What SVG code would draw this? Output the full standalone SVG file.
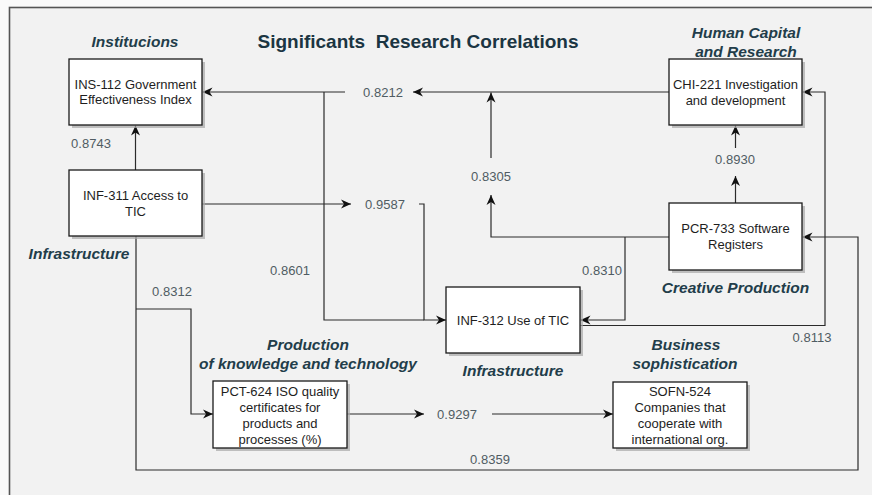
<svg xmlns="http://www.w3.org/2000/svg" width="872" height="495" viewBox="0 0 872 495">
<style>
.box{fill:#ffffff;stroke:#1a1a1a;stroke-width:1.3}
.shd{fill:#a8a8a8;opacity:0.7}
.nt{font-family:"Liberation Sans",Arial,sans-serif;font-size:13px;fill:#1e1e1e;text-anchor:middle}
.num{font-family:"Liberation Sans",Arial,sans-serif;font-size:13px;fill:#505c63;text-anchor:middle}
.cat{font-family:"Liberation Sans",Arial,sans-serif;font-size:15.5px;font-weight:bold;font-style:italic;fill:#223d4a;text-anchor:middle}
.ttl{font-family:"Liberation Sans",Arial,sans-serif;font-size:19px;font-weight:bold;fill:#1b3542;text-anchor:middle;white-space:pre}
.ln{fill:none;stroke:#2b2b2b;stroke-width:1.2}
.arr{marker-end:url(#ah)}
</style>
<defs>
<marker id="ah" markerUnits="userSpaceOnUse" markerWidth="11" markerHeight="10" refX="10" refY="5" orient="auto">
<path d="M0,0.5 L10,5 L0,9.5 L3,5 Z" fill="#111"/>
</marker>
</defs>
<rect x="0" y="0" width="872" height="495" fill="#fafafa"/>
<rect x="9.5" y="7.5" width="880" height="500" fill="#f2f2f2" stroke="#555" stroke-width="1.6"/>
<text class="ttl" x="418" y="48" xml:space="preserve">Significants  Research Correlations</text>

<g id="connectors">
<path class="ln arr" d="M135.5,170 V125.5"/>
<path class="ln arr" d="M202,204 H351"/>
<path class="ln arr" d="M419,204 H424 V320 H446"/>
<path class="ln arr" d="M669,92 H413"/>
<path class="ln arr" d="M345,92 H202.5"/>
<path class="ln" d="M324,92 V320 H424"/>
<path class="ln arr" d="M669,237 H491 V195"/>
<path class="ln arr" d="M491,158 V92.5"/>
<path class="ln arr" d="M625,237 V320 H580.5"/>
<path class="ln arr" d="M580,325.5 H825 V92 H802.5"/>
<path class="ln arr" d="M735.5,203 V176"/>
<path class="ln arr" d="M735.5,148 V125.5"/>
<path class="ln arr" d="M136,236 V470 H858 V237 H802.5"/>
<path class="ln arr" d="M136,309 H191 V414 H213"/>
<path class="ln arr" d="M347,414 H424"/>
<path class="ln arr" d="M492,414 H613"/>
<text class="num" x="385" y="208.5">0.9587</text>
<text class="num" x="383" y="96.5">0.8212</text>
<text class="num" x="491" y="180.5">0.8305</text>
<text class="num" x="735" y="163.5">0.8930</text>
<text class="num" x="91" y="147.5">0.8743</text>
<text class="num" x="290" y="274.5">0.8601</text>
<text class="num" x="172" y="295.5">0.8312</text>
<text class="num" x="602" y="274.5">0.8310</text>
<text class="num" x="812" y="341.5">0.8113</text>
<text class="num" x="457" y="418.5">0.9297</text>
<text class="num" x="490" y="463.5">0.8359</text>
</g>

<g id="ins112">
<rect class="shd" x="72" y="62" width="133" height="66"/>
<rect class="box" x="69" y="59" width="133" height="66"/>
<text class="nt" x="135.5" y="89">INS-112 Government</text>
<text class="nt" x="135.5" y="104">Effectiveness Index</text>
<text class="cat" x="135" y="47">Institucions</text>
</g>

<g id="inf311">
<rect class="shd" x="72" y="173" width="133" height="66"/>
<rect class="box" x="69" y="170" width="133" height="66"/>
<text class="nt" x="135.5" y="199.5">INF-311 Access to</text>
<text class="nt" x="135.5" y="215.5">TIC</text>
<text class="cat" x="79" y="258.5">Infrastructure</text>
</g>

<g id="chi221">
<rect class="shd" x="672" y="62" width="133" height="66"/>
<rect class="box" x="669" y="59" width="133" height="66"/>
<text class="nt" x="735.5" y="88.5">CHI-221 Investigation</text>
<text class="nt" x="735.5" y="104.5">and development</text>
<text class="cat" x="746" y="37.5">Human Capital</text>
<text class="cat" x="746" y="56.5">and Research</text>
</g>

<g id="pcr733">
<rect class="shd" x="672" y="206" width="133" height="67"/>
<rect class="box" x="669" y="203" width="133" height="67"/>
<text class="nt" x="735.5" y="232.5">PCR-733 Software</text>
<text class="nt" x="735.5" y="248.5">Registers</text>
<text class="cat" x="735.5" y="292.5">Creative Production</text>
</g>

<g id="inf312">
<rect class="shd" x="449" y="290" width="134" height="66"/>
<rect class="box" x="446" y="287" width="134" height="66"/>
<text class="nt" x="513" y="324.5">INF-312 Use of TIC</text>
<text class="cat" x="513" y="375.5">Infrastructure</text>
</g>

<g id="pct624">
<rect class="shd" x="216" y="384" width="134" height="67"/>
<rect class="box" x="213" y="381" width="134" height="67"/>
<text class="nt" x="280" y="395.5">PCT-624 ISO quality</text>
<text class="nt" x="280" y="411.5">certificates for</text>
<text class="nt" x="280" y="427.5">products and</text>
<text class="nt" x="280" y="443.5">processes (%)</text>
<text class="cat" x="308" y="349.5">Production</text>
<text class="cat" x="308" y="368.5">of knowledge and technology</text>
</g>

<g id="sofn524">
<rect class="shd" x="616" y="385" width="134" height="66"/>
<rect class="box" x="613" y="382" width="134" height="66"/>
<text class="nt" x="680" y="395.5">SOFN-524</text>
<text class="nt" x="680" y="411.5">Companies that</text>
<text class="nt" x="680" y="427.5">cooperate with</text>
<text class="nt" x="680" y="443.5">international org.</text>
<text class="cat" x="686" y="349.5">Business</text>
<text class="cat" x="685" y="368.5">sophistication</text>
</g>
</svg>
